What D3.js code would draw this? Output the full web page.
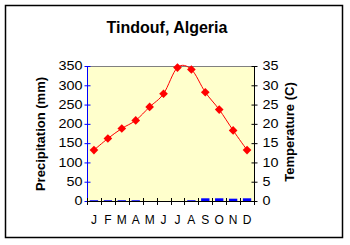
<!DOCTYPE html>
<html>
<head>
<meta charset="utf-8">
<script src="https://cdn.jsdelivr.net/npm/d3@7"></script>
<style>
  body { margin: 0; background: #fff; }
  svg { display: block; font-family: "Liberation Sans", Arial, sans-serif; }
</style>
</head>
<body>
<svg id="chart" width="350" height="245"></svg>
<script>
var months = ["J", "F", "M", "A", "M", "J", "J", "A", "S", "O", "N", "D"];
var precip = [2, 2, 2, 2, 0, 0, 0, 2, 7, 7, 6, 7];
var temps = [13.2, 16.2, 18.8, 20.9, 24.4, 27.8, 34.6, 34.1, 28.2, 23.7, 18.3, 13.2];
var precipTicks = [0, 50, 100, 150, 200, 250, 300, 350];
var tempTicks = [0, 5, 10, 15, 20, 25, 30, 35];

var svg = d3.select("#chart");
var pLeft = 87, pRight = 254, pTop = 66, pBottom = 201;
var stretch = 1.2; // tick labels in the picture look wide

// outer frame
svg.append("rect")
    .attr("x", 5.5).attr("y", 5.5)
    .attr("width", 337).attr("height", 232)
    .attr("fill", "#fff").attr("stroke", "#000").attr("stroke-width", 1.5);

svg.append("text")
    .attr("x", 167).attr("y", 33)
    .attr("text-anchor", "middle")
    .style("font-size", "16px").style("font-weight", "bold")
    .text("Tindouf, Algeria");

var x = d3.scaleBand().domain(d3.range(12)).range([pLeft, pRight]);
var yP = d3.scaleLinear().domain([0, 350]).range([pBottom, pTop]);
var yT = d3.scaleLinear().domain([0, 35]).range([pBottom, pTop]);

// plot area
svg.append("rect")
    .attr("x", pLeft).attr("y", pTop)
    .attr("width", pRight - pLeft).attr("height", pBottom - pTop)
    .attr("fill", "#ffffcc");
svg.append("line")
    .attr("x1", pLeft).attr("x2", pRight).attr("y1", pTop + 0.5).attr("y2", pTop + 0.5)
    .attr("stroke", "#808080");

// precipitation bars
svg.append("g").selectAll("rect")
    .data(precip)
    .join("rect")
    .attr("x", function(d, i) { return x(i) + x.bandwidth() * 0.2; })
    .attr("width", x.bandwidth() * 0.6)
    .attr("y", function(d) { return yP(d); })
    .attr("height", function(d) { return pBottom - yP(d); })
    .attr("fill", "#0000ff");

// left axis
var gl = svg.append("g").attr("transform", "translate(" + (pLeft + 0.5) + ",0)");
gl.call(d3.axisLeft(yP).tickValues(precipTicks).tickSize(3).tickPadding(2));
gl.selectAll(".tick line").attr("x1", 3).attr("stroke", "#0000ff");
gl.select(".domain").attr("stroke", "#0000ff").attr("d", "M0," + pTop + "V" + (pBottom + 1));
gl.selectAll(".tick text")
    .attr("fill", "#000")
    .style("font-size", "12px")
    .attr("transform", "scale(" + stretch + ",1)")
    .attr("x", -5 / stretch);

// right axis
var gr = svg.append("g").attr("transform", "translate(" + (pRight + 0.5) + ",0)");
gr.call(d3.axisRight(yT).tickValues(tempTicks).tickSize(3).tickPadding(6));
gr.selectAll(".tick line").attr("x1", -3);
gr.select(".domain").attr("d", "M0," + pTop + "V" + pBottom);
gr.selectAll(".tick text")
    .attr("fill", "#000")
    .style("font-size", "12px")
    .attr("transform", "scale(" + stretch + ",1)")
    .attr("x", 8 / stretch);

// bottom axis: ticks between categories
var gb = svg.append("g");
gb.append("line")
    .attr("x1", pLeft).attr("x2", pRight + 1)
    .attr("y1", pBottom + 0.5).attr("y2", pBottom + 0.5)
    .attr("stroke", "#000");
gb.selectAll("line.t")
    .data(d3.range(13))
    .join("line")
    .attr("class", "t")
    .attr("x1", function(i) { return Math.round(pLeft + i * x.step()) + 0.5; })
    .attr("x2", function(i) { return Math.round(pLeft + i * x.step()) + 0.5; })
    .attr("y1", pBottom - 3).attr("y2", pBottom + 4)
    .attr("stroke", "#000");
gb.selectAll("text")
    .data(months)
    .join("text")
    .attr("x", function(d, i) { return x(i) + x.bandwidth() / 2; })
    .attr("y", 224)
    .attr("text-anchor", "middle")
    .style("font-size", "12px")
    .text(function(d) { return d; });

// temperature line
var line = d3.line()
    .x(function(d, i) { return x(i) + x.bandwidth() / 2; })
    .y(function(d) { return yT(d); })
    .curve(d3.curveCatmullRom.alpha(0));
svg.append("path")
    .datum(temps)
    .attr("d", line)
    .attr("fill", "none")
    .attr("stroke", "#ff0000")
    .attr("stroke-width", 1);

svg.append("g").selectAll("path")
    .data(temps)
    .join("path")
    .attr("transform", function(d, i) {
        return "translate(" + (x(i) + x.bandwidth() / 2) + "," + yT(d) + ")";
    })
    .attr("d", d3.symbol(d3.symbolDiamond2, 48))
    .attr("fill", "#ff0000");

// axis titles
svg.append("text")
    .attr("transform", "translate(45,134) rotate(-90)")
    .attr("text-anchor", "middle")
    .style("font-size", "13px").style("font-weight", "bold")
    .text("Precipitation (mm)");
svg.append("text")
    .attr("transform", "translate(294,132) rotate(-90)")
    .attr("text-anchor", "middle")
    .style("font-size", "13px").style("font-weight", "bold")
    .text("Temperature (C)");
</script>
</body>
</html>
